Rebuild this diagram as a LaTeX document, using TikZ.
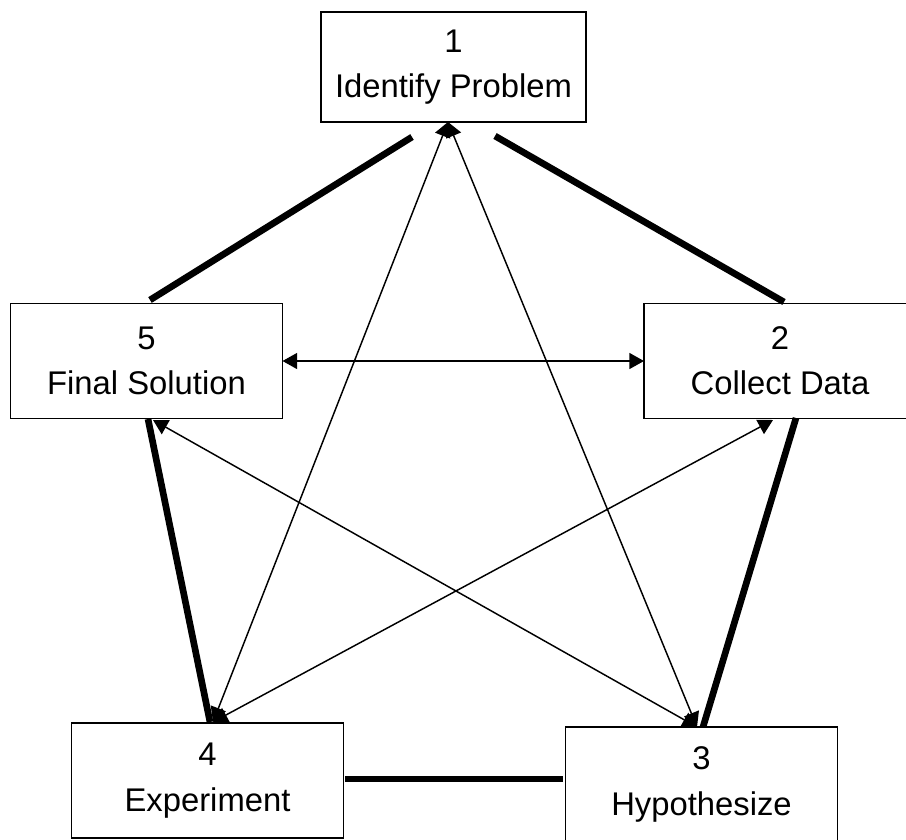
\documentclass[tikz,border=0pt]{standalone}
\usepackage{fontspec}
\setmainfont{Liberation Sans}
\usetikzlibrary{arrows.meta}
\begin{document}
\begin{tikzpicture}[x=0.75pt,y=-0.75pt,
  stage/.style={draw,line width=1.2pt,fill=white,inner sep=0pt,outer sep=0pt,
    minimum width=204pt,minimum height=86pt,align=center,
    font=\fontsize{24.6}{34}\selectfont},
  bond/.style={line width=5pt},
  link/.style={line width=1.1pt,{Triangle[length=11pt,width=12pt]}-{Triangle[length=11pt,width=12pt]}}]
\useasboundingbox (0,0) rectangle (906,839);
\clip (0,0) rectangle (906,839);

% stages of the cycle
\node[stage,minimum width=199pt,minimum height=82.5pt] (b1) at (453.5,67) {1\\Identify Problem};
\node[stage] (b2) at (780,361) {2\\Collect Data};
\node[stage] (b3) at (701.5,784.5) {3\\Hypothesize};
\node[stage] (b4) at (207.5,780.5) {4\\Experiment};
\node[stage] (b5) at (146.5,361) {5\\Final Solution};

% end points of the heavy sides of the pentagon
\coordinate (s51a) at (150,300);  \coordinate (s51b) at (412,137);
\coordinate (s12a) at (495,136);  \coordinate (s12b) at (784,302);
\coordinate (s23a) at (796,418);  \coordinate (s23b) at (703,727);
\coordinate (s54a) at (148,419);  \coordinate (s54b) at (210,722);
\coordinate (s43a) at (345,779);  \coordinate (s43b) at (563,779);

% tips of the two-way arrows
\coordinate (p1) at (448,122);
\coordinate (p2) at (773,420);
\coordinate (p3) at (697,727);
\coordinate (p4) at (213,722);
\coordinate (p5) at (153,420);

% heavy sides
\draw[bond] (s51a) -- (s51b);
\draw[bond] (s12a) -- (s12b);
\draw[bond] (s23a) -- (s23b);
\draw[bond] (s54a) -- (s54b);
\draw[bond] (s43a) -- (s43b);

% two-way arrows
\draw[link] (b5) -- (b2);
\draw[link] (p1) -- (p4);
\draw[link] (p1) -- (p3);
\draw[link] (p5) -- (p3);
\draw[link] (p2) -- (p4);
\end{tikzpicture}
\end{document}
